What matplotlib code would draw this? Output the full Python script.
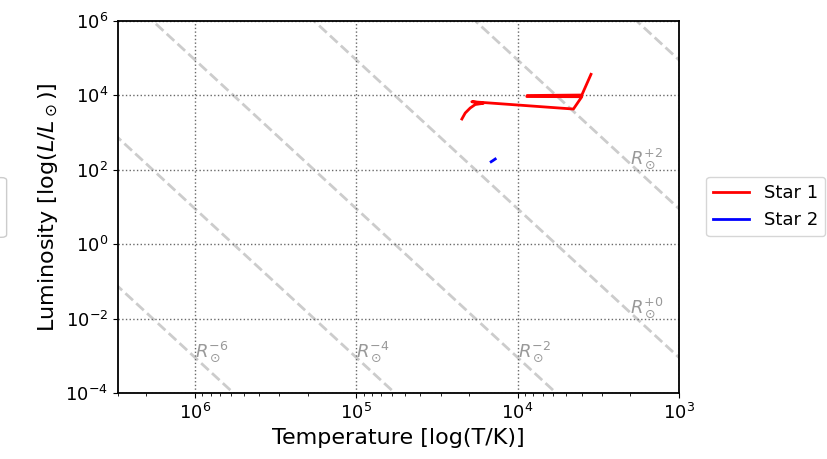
import numpy as np
import matplotlib
matplotlib.use('Agg')
import matplotlib.pyplot as plt
from matplotlib.patches import FancyBboxPatch
from matplotlib.ticker import NullLocator

# Star tracks (T in K, L in L_sun)
star1_T = [22160, 21130, 19680, 18320, 16300, 19230, 4510, 4000, 8770, 8730, 4000, 3510]
star1_L = [2323, 3365, 4585, 5690, 6140, 6780, 4305, 9230, 9330, 9930, 10250, 36900]
star2_T = [14590, 14200, 13770]
star2_L = [165, 178, 195]

# iso-radius lines (log10 R/R_sun) and which ones get a label
radius_exps = [-6, -4, -2, 0, 2, 4]
label_exps = [-6, -4, -2, 0, 2]
label_T = [1e6, 1e5, 1e4, 2e3, 2e3]
lum_ticks = [1e-4, 1e-2, 1e0, 1e2, 1e4, 1e6]

T_SUN = 5772.0

fig = plt.figure(figsize=(8.28, 4.59), dpi=100)
ax = fig.add_axes([0.1425, 0.1438, 0.6775, 0.8104])

T_grid = np.logspace(2.5, 7, 200)
for e in radius_exps:
    L = (10.0**e)**2 * (T_grid / T_SUN)**4
    ax.plot(T_grid, L, ls='--', color='gray', alpha=0.4, lw=2, zorder=1)

for e, t in zip(label_exps, label_T):
    L = (10.0**e)**2 * (t / T_SUN)**4
    ax.text(t, L, r'$R_\odot^{%+d}$' % e, color='gray', alpha=0.8, fontsize=13, zorder=2)

ax.plot(star1_T, star1_L, color='red', lw=2, label='Star 1', zorder=3)
ax.plot(star2_T, star2_L, color='blue', lw=2, label='Star 2', zorder=3)

ax.set_xscale('log')
ax.set_yscale('log')
ax.set_xlim(3e6, 1e3)
ax.set_ylim(1e-4, 1e6)
ax.set_yticks(lum_ticks)
ax.yaxis.set_minor_locator(NullLocator())
ax.grid(True, which='major', ls=':', color='dimgray', lw=1)
ax.tick_params(labelsize=13)
for s in ax.spines.values():
    s.set_linewidth(1.3)

ax.set_xlabel('Temperature [log(T/K)]', fontsize=16)
ax.set_ylabel(r'Luminosity [log($L/L_\odot$)]', fontsize=16)

fig.legend(loc='center left', bbox_to_anchor=(0.8527, 0.55), borderaxespad=0, fontsize=13)

# clipped copy of the legend frame hanging off the left edge
fig.patches.append(FancyBboxPatch((-0.15, 0.483), 0.158, 0.13, boxstyle='round,pad=0,rounding_size=0.006',
                                  transform=fig.transFigure, facecolor='white', edgecolor='#cccccc', lw=1))

fig.savefig('out.png', dpi=100)
